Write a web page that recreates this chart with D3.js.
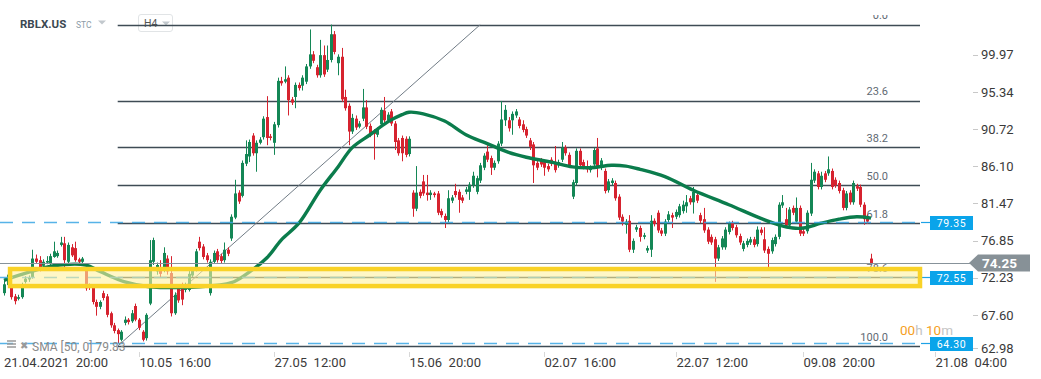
<!DOCTYPE html>
<html><head><meta charset="utf-8">
<script src="https://cdn.jsdelivr.net/npm/d3@7"></script>
<style>
html,body{margin:0;padding:0;background:#fff;}
svg{display:block;font-family:Roboto,"Open Sans",sans-serif;}
</style></head><body>
<svg id="chart" width="1041" height="379"></svg>
<script>
const symbol = "RBLX.US";
const openP = [
70.5,71.5,71.5,70.1,69.8,70.0,71.9,72.2,72.5,74.8,
74.6,73.9,74.3,74.2,75.0,75.1,76.5,76.7,74.4,76.2,
76.1,74.7,74.4,73.4,71.5,71.3,69.4,68.8,70.5,70.1,
68.0,66.5,65.9,64.7,66.8,67.2,67.0,68.9,67.2,65.7,
64.9,69.2,74.4,73.2,73.6,73.4,74.8,73.0,68.0,71.3,
71.5,70.9,70.9,72.7,73.4,76.9,76.3,75.2,70.5,74.4,
75.7,75.1,74.6,75.9,77.3,79.9,83.0,82.6,86.6,87.5,
90.1,87.9,89.2,89.9,92.4,90.0,89.2,91.4,96.9,96.8,
97.3,94.6,94.9,96.4,96.3,96.8,98.7,100.2,98.6,97.6,
100.1,98.3,99.5,102.7,99.1,99.9,94.9,93.8,90.6,92.2,
91.2,92.2,93.6,91.3,90.6,90.2,91.5,93.2,92.0,93.1,
91.6,89.5,89.8,89.7,87.8,83.0,81.0,83.1,84.4,83.0,
82.7,82.9,82.9,80.7,80.1,79.6,82.0,83.2,83.1,82.4,
83.1,83.1,83.9,83.1,84.5,86.1,88.1,87.3,86.1,86.9,
89.1,92.0,92.0,92.0,92.6,92.1,91.5,90.9,89.5,89.0,
86.7,87.0,86.8,86.3,87.1,86.7,86.4,87.1,88.6,87.7,
82.5,84.2,88.2,86.8,86.2,85.8,86.5,88.5,86.1,85.7,
83.3,84.2,84.2,82.5,80.0,79.0,79.5,75.9,78.4,78.6,
77.5,75.8,75.9,79.5,80.5,78.3,77.9,79.6,80.2,80.0,
80.2,80.7,81.3,82.3,81.8,82.7,80.2,79.7,78.4,77.5,
77.2,74.8,76.2,76.2,78.1,79.2,78.7,77.6,76.0,76.5,
76.8,77.2,76.6,78.4,77.2,76.0,75.7,76.6,77.5,81.4,
79.7,78.9,81.1,79.4,81.1,78.2,78.2,80.4,84.5,85.4,
83.7,85.4,85.4,85.7,84.6,84.2,83.3,81.1,83.0,81.8,
83.8,83.7,81.5,80.0,74.8];
const highP = [
72.3,73.2,72.5,70.4,70.3,71.8,72.6,72.7,75.9,75.3,
75.1,74.7,75.1,75.4,76.9,75.8,77.5,77.5,76.8,76.6,
76.9,74.9,75.0,74.0,71.7,71.6,69.7,69.6,70.8,70.4,
68.2,66.8,66.1,65.9,67.6,67.4,68.4,69.2,67.4,65.9,
68.0,77.1,77.4,74.3,74.6,76.2,75.2,75.1,70.6,71.6,
71.8,71.8,73.3,73.7,76.0,77.5,76.6,75.5,74.7,75.8,
76.0,75.4,76.8,76.2,80.3,84.6,83.3,87.0,89.5,89.6,
90.4,89.5,89.9,92.5,95.0,90.3,91.8,97.3,97.4,98.7,
97.6,94.9,96.7,96.7,97.6,99.0,103.3,100.6,98.9,102.0,
101.3,101.3,103.9,103.1,100.2,101.0,95.8,94.1,92.8,92.6,
91.9,95.9,94.5,91.6,90.9,91.1,93.6,94.9,93.0,93.4,
91.9,89.8,90.1,90.0,90.0,83.3,86.3,83.4,85.2,85.2,
83.3,83.1,83.2,81.0,80.4,83.3,82.7,84.1,83.4,82.7,
83.7,84.3,85.6,85.1,86.7,87.9,88.9,87.6,87.0,89.4,
94.4,93.9,92.4,93.1,93.4,92.4,92.0,91.2,89.8,89.3,
87.0,87.3,87.1,86.6,87.4,88.8,87.1,89.3,88.9,88.0,
84.6,88.5,88.5,87.1,87.0,86.4,88.6,89.8,87.3,86.0,
84.7,84.8,84.5,82.8,80.3,79.7,80.2,77.3,79.0,78.9,
78.0,76.4,80.2,79.8,80.8,78.6,79.7,80.7,80.5,80.9,
81.6,82.0,82.7,82.6,83.7,83.0,80.5,81.1,78.7,77.8,
77.5,76.5,77.6,78.7,79.4,79.5,79.0,77.9,77.0,77.3,
77.5,77.5,78.8,78.7,78.7,76.3,77.4,77.8,81.8,82.7,
81.1,81.2,81.4,82.4,81.4,78.5,80.8,86.7,85.9,85.7,
85.6,85.7,87.5,86.0,84.9,84.5,83.6,83.2,83.3,84.5,
84.1,84.0,81.8,80.3,75.4];
const lowP = [
70.2,71.3,69.7,69.1,69.6,69.8,71.7,71.9,72.3,74.2,
73.2,73.6,74.1,74.0,74.9,74.9,76.3,73.6,74.2,75.0,
74.4,74.1,74.2,70.8,70.9,69.1,67.7,68.5,69.6,67.5,
66.2,65.5,64.3,64.5,66.5,66.6,66.8,67.0,65.9,64.5,
64.6,69.0,74.0,72.8,72.5,73.1,72.8,67.6,67.8,69.3,
69.0,70.6,70.7,72.5,73.2,75.8,74.7,74.3,70.2,74.2,
74.3,74.2,74.3,75.1,77.0,79.7,81.6,82.4,86.3,86.8,
87.6,85.6,89.0,89.6,88.9,89.5,87.7,91.1,96.3,96.6,
92.6,93.9,93.5,95.7,95.7,96.5,98.4,99.1,97.3,97.3,
97.4,98.0,99.2,100.2,97.6,94.3,93.2,88.9,90.3,90.8,
91.0,91.9,90.9,89.9,87.1,89.9,91.2,91.7,91.7,91.3,
88.3,87.6,86.9,87.4,87.5,80.0,80.7,82.3,82.6,82.0,
82.1,82.4,80.2,79.9,78.6,79.3,81.7,82.4,80.5,81.7,
82.8,82.1,83.6,82.8,84.2,85.8,86.8,85.2,85.8,86.6,
88.8,91.3,90.6,90.2,92.3,91.0,90.5,89.8,88.3,84.2,
85.8,86.2,85.1,85.6,86.3,85.5,86.1,86.8,87.6,86.1,
82.2,83.9,86.1,85.9,85.5,85.5,86.2,84.9,85.8,82.9,
83.0,83.9,82.0,79.6,78.9,77.9,75.6,75.5,78.1,76.9,
77.2,75.5,75.0,78.8,78.0,77.6,77.6,79.3,78.6,79.7,
79.9,80.4,80.5,81.5,80.4,81.7,79.2,78.0,76.6,76.5,
71.9,74.5,75.9,75.9,77.8,78.3,77.4,76.5,75.7,76.2,
76.5,76.2,76.3,77.7,75.5,73.6,75.4,76.3,77.2,81.1,
78.6,78.6,80.2,79.1,77.6,77.6,77.9,80.1,84.2,83.4,
83.4,84.3,85.1,83.4,83.6,82.9,80.8,80.8,81.5,81.5,
83.2,81.2,79.0,79.1,74.1];
const closeP = [
71.6,72.8,70.0,69.5,70.0,71.5,72.3,72.4,74.8,74.4,
73.5,74.4,74.5,75.1,75.7,75.5,76.8,74.6,76.5,75.2,
74.6,74.4,74.8,71.1,71.2,69.4,68.8,69.4,69.9,67.8,
66.5,65.8,65.4,65.7,67.2,66.9,68.0,67.2,66.2,64.7,
67.8,74.6,77.1,74.0,72.9,75.5,73.2,68.0,70.3,69.6,
69.7,71.5,72.9,73.4,75.7,76.1,75.0,74.6,74.4,75.5,
74.6,74.5,75.9,75.4,80.0,82.9,81.9,86.7,87.8,89.3,
87.9,89.2,89.6,92.2,89.8,89.8,91.5,96.9,96.6,97.1,
94.5,94.2,96.4,96.0,97.3,98.7,100.2,99.4,97.6,100.1,
97.7,99.5,102.7,100.5,99.9,94.6,93.5,90.6,92.3,91.1,
91.6,93.6,91.2,90.2,90.3,90.8,93.3,92.0,92.7,91.6,
89.3,87.9,87.9,87.7,89.7,81.0,83.0,82.6,82.9,82.7,
83.0,82.7,80.5,80.2,79.6,82.3,82.4,82.7,82.1,82.0,
83.4,84.0,85.1,84.8,86.4,87.6,87.1,86.1,86.7,89.1,
92.1,93.3,91.0,92.8,93.1,91.3,90.8,90.1,88.7,86.4,
86.1,86.5,86.1,85.9,86.6,85.8,86.8,88.6,87.9,86.4,
84.3,88.2,86.4,86.2,85.9,86.1,88.3,86.2,87.0,83.2,
84.4,84.5,82.3,79.9,79.4,79.4,75.9,77.0,78.7,77.5,
77.7,76.1,79.5,79.1,78.3,77.9,79.4,80.3,79.9,80.6,
81.3,81.5,81.8,81.8,83.1,82.0,79.5,78.3,76.9,76.8,
74.8,76.2,77.3,78.4,79.1,78.6,77.7,76.8,76.7,77.0,
77.2,76.5,78.4,78.0,75.8,75.4,77.1,77.5,81.5,81.8,
78.9,80.9,80.5,81.1,77.9,77.9,80.5,84.6,85.6,83.7,
85.1,84.6,85.9,83.7,83.9,83.2,81.1,82.9,81.8,84.2,
83.5,81.5,79.7,79.4,74.25];

const smaIdx = [0,7,14,23,27,34,41,55,64,68,74,78,83,89,94,98,103,108,112,114,118,124,130,136,142,147,154,160,165,171,175,179,186,194,204,213,218,222,225,230,235,240,244];
const smaVal = [72.1,73.1,73.9,74.0,73.2,71.9,71.3,71.3,71.8,72.8,74.9,77.1,79.2,83.3,86.2,88.6,90.2,91.8,92.7,93.0,92.8,91.9,90.2,89.1,88.0,87.4,86.8,86.2,86.1,86.4,86.3,85.9,85.0,83.3,81.5,79.8,79.0,78.6,78.6,79.2,79.7,80.0,79.83];

const fibHigh = 103.88, fibLow = 63.92, fibStartIdx = 32;
const fibLevels = [0, 23.6, 38.2, 50.0, 61.8, 78.6, 100.0];
const fibLabels = ["0.0","23.6","38.2","50.0","61.8","78.6","100.0"];
const trendIdx = [32, 134];
const trendVal = [63.92, 103.88];

const priceTicks = [99.97, 95.34, 90.72, 86.10, 81.47, 76.85, 72.23, 67.60, 62.98];
const timeTickIdx = [0, 38, 76, 114, 152, 189, 225, 262];
const timeTickLabels = ["21.04.2021  20:00","10.05  16:00","27.05  12:00","15.06  20:00","02.07  16:00","22.07  12:00","09.08  20:00","21.08  04:00"];

const blueLevels = [79.35, 72.55, 64.30];
const lastPrice = 74.25;
const zoneLow = 71.38, zoneHigh = 73.50, zoneStartIdx = 1.7;
const smaLegend = "SMA [50, 0] 79.83";
const countdown = [["00","#f5a01f"],["h ","#c4c4c4"],["10","#f5a01f"],["m","#c4c4c4"]];

const svg = d3.select("#chart");
const PR = 920; // plot right edge
const x = d3.scaleLinear().domain([0, 244]).range([4, 871]);
const y = d3.scaleLinear().domain([62.98, 99.97]).range([353.6, 56.2]);

svg.append("defs").append("clipPath").attr("id","pc")
  .append("rect").attr("x",0).attr("y",15).attr("width",PR).attr("height",338);

// header
const hdr = svg.append("g");
hdr.append("text").attr("x",20).attr("y",27.5).attr("font-size",11.5).attr("font-weight","bold")
  .attr("fill","#3b4852").text(symbol);
hdr.append("text").attr("x",76).attr("y",27.5).attr("font-size",8.5).attr("fill","#8c9ba7").text("STC");
hdr.append("path").attr("d","M98,20.5 L106,20.5 L102,24.5 Z").attr("fill","#c2c8cd");
hdr.append("rect").attr("x",138.5).attr("y",14.5).attr("width",34).attr("height",17).attr("rx",2.5)
  .attr("fill","#fff").attr("stroke","#e1e4e6");
hdr.append("text").attr("x",144).attr("y",27).attr("font-size",10.5).attr("fill","#555").text("H4");
hdr.append("path").attr("d","M162,21.5 L170,21.5 L166,25.5 Z").attr("fill","#c2c8cd");

const plot = svg.append("g").attr("clip-path","url(#pc)");

// fib lines
const fibPrice = l => fibHigh - l/100*(fibHigh - fibLow);
plot.selectAll(".fib").data(fibLevels).join("line")
  .attr("x1", x(fibStartIdx)).attr("x2", PR)
  .attr("y1", d => Math.round(y(fibPrice(d)))+0.5).attr("y2", d => Math.round(y(fibPrice(d)))+0.5)
  .attr("stroke","#3e4b55").attr("stroke-width",1.4);
plot.selectAll(".fibl").data(fibLevels).join("text")
  .attr("x", 888).attr("y", d => y(fibPrice(d)) - 5.5)
  .attr("text-anchor","end").attr("font-size",11).attr("fill","#5f6a73")
  .text((d,i) => fibLabels[i]);

// trend line
plot.append("line").attr("x1",x(trendIdx[0])).attr("y1",y(trendVal[0]))
  .attr("x2",x(trendIdx[1])).attr("y2",y(trendVal[1]))
  .attr("stroke","#717c86").attr("stroke-width",1);

// blue dashed levels
blueLevels.forEach(v => {
  const yy = Math.round(y(v)) + 0.5;
  svg.append("line").attr("x1",0).attr("x2",921).attr("y1",yy).attr("y2",yy)
    .attr("stroke","#3aa6e4").attr("stroke-width",1.6).attr("stroke-dasharray","13,9").attr("opacity",0.85);
  svg.append("line").attr("x1",921).attr("x2",931).attr("y1",yy).attr("y2",yy)
    .attr("stroke","#1ea2e6").attr("stroke-width",1.2);
});

// last price line
const yLast = Math.round(y(lastPrice)) + 0.5;
svg.append("line").attr("x1",0).attr("x2",970).attr("y1",yLast).attr("y2",yLast)
  .attr("stroke","#87929a").attr("stroke-width",1);

// candles
const idx = d3.range(closeP.length);
const up = "#148756", dn = "#d6232f";
const cg = plot.append("g");
cg.selectAll(".w").data(idx).join("line")
  .attr("x1", i => Math.round(x(i))+0.5).attr("x2", i => Math.round(x(i))+0.5)
  .attr("y1", i => y(highP[i])).attr("y2", i => y(lowP[i]))
  .attr("stroke", i => closeP[i] >= openP[i] ? up : dn).attr("stroke-width",1);
cg.selectAll(".b").data(idx).join("rect")
  .attr("x", i => Math.round(x(i))-1).attr("width",3)
  .attr("y", i => y(Math.max(openP[i], closeP[i])))
  .attr("height", i => Math.max(1, Math.abs(y(openP[i]) - y(closeP[i]))))
  .attr("fill", i => closeP[i] >= openP[i] ? up : dn);

// SMA
const smaPts = smaIdx.map((d,i) => [d, smaVal[i]]);
plot.append("path").datum(smaPts)
  .attr("d", d3.line().x(d => x(d[0])).y(d => y(d[1])).curve(d3.curveCatmullRom.alpha(0.5)))
  .attr("fill","none").attr("stroke","#0b7c4c").attr("stroke-width",3.4).attr("stroke-linejoin","round");

// yellow zone
svg.append("rect").attr("x", x(zoneStartIdx)).attr("y", y(zoneHigh))
  .attr("width", PR - x(zoneStartIdx)).attr("height", y(zoneLow) - y(zoneHigh))
  .attr("fill","#fff1a0").attr("fill-opacity",0.6)
  .attr("stroke","#f9d227").attr("stroke-width",4.5);

// countdown
const cd = svg.append("text").attr("x",900).attr("y",335).attr("font-size",13.5).style("white-space","pre");
countdown.forEach(p => cd.append("tspan").attr("fill",p[1]).text(p[0]));

// right axis
const ax = svg.append("g");
priceTicks.forEach(v => {
  const yy = Math.min(y(v) - 1.5, 348);
  ax.append("line").attr("x1",973).attr("x2",978).attr("y1",Math.round(yy)+0.5).attr("y2",Math.round(yy)+0.5)
    .attr("stroke","#c8c8c8");
  ax.append("text").attr("x",981).attr("y",yy+4.6).attr("font-size",13).attr("fill","#3a3a3a").text(v.toFixed(2));
});

// blue labels
blueLevels.forEach(v => {
  const yy = y(v) + 1.5;
  svg.append("rect").attr("x",930).attr("y",Math.round(yy-7)).attr("width",43).attr("height",14).attr("fill","#0aa4ea");
  svg.append("text").attr("x",951.5).attr("y",yy+3.6).attr("text-anchor","middle").attr("font-size",10.5)
    .attr("letter-spacing",0.6).attr("fill","#fff").text(v.toFixed(2));
});

// last price label
const yl = y(lastPrice);
svg.append("path").attr("d",`M969,${yl} L978,${yl-8.5} L1030,${yl-8.5} L1030,${yl+8.5} L978,${yl+8.5} Z`).attr("fill","#879197");
svg.append("text").attr("x",982).attr("y",yl+4.6).attr("font-size",13.5).attr("font-weight","bold").attr("fill","#fff").text(lastPrice.toFixed(2));

// time axis
timeTickIdx.forEach((t,i) => {
  const xx = Math.round(x(t)) + 0.5;
  if (i > 0) svg.append("line").attr("x1",xx).attr("x2",xx).attr("y1",352).attr("y2",357).attr("stroke","#d8d8d8");
  svg.append("text").attr("x", i === 0 ? 4 : xx).attr("y",366.5).attr("font-size",13).attr("fill","#3a3a3a")
    .style("white-space","pre").text(timeTickLabels[i]);
});

// legend
const lg = svg.append("g");
[341,344,347].forEach(yy => lg.append("line").attr("x1",7).attr("x2",16).attr("y1",yy).attr("y2",yy).attr("stroke","#9a9a9a").attr("stroke-width",1.5));
lg.append("text").attr("x",19.5).attr("y",349).attr("font-size",10).attr("fill","#9a9a9a").text("✖");
lg.append("text").attr("x",32).attr("y",350.5).attr("font-size",12).attr("fill","#8a8a8a").text(smaLegend);
</script>
</body></html>
